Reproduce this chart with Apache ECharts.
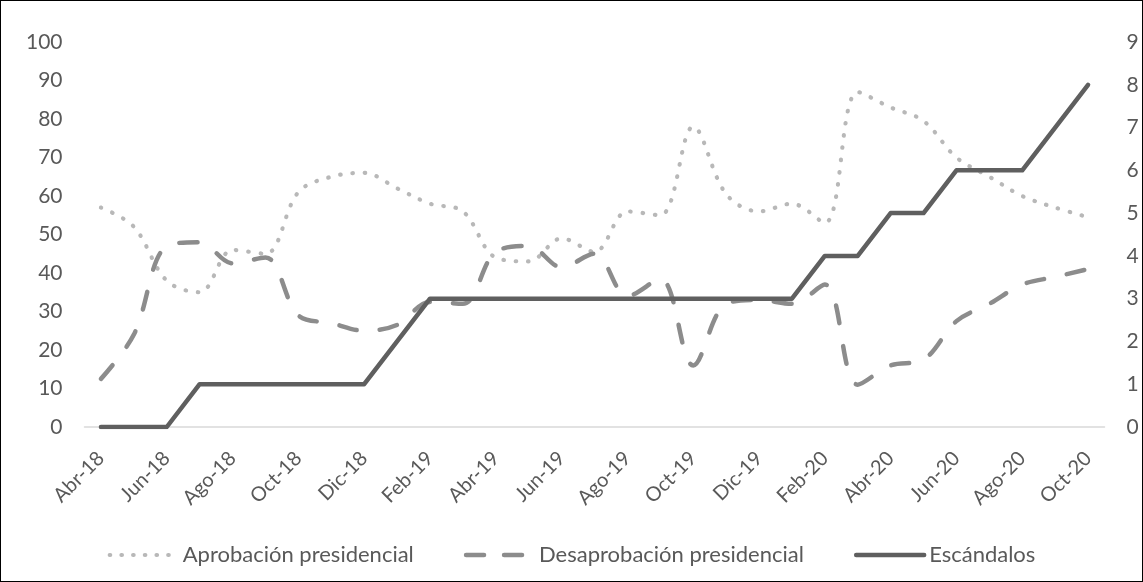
<!DOCTYPE html>
<html><head><meta charset="utf-8">
<script src="https://cdn.jsdelivr.net/npm/echarts@6/dist/echarts.min.js"></script>
<style>
html,body{margin:0;padding:0;background:#fff;}
#frame{width:1143px;height:582px;box-sizing:border-box;border:1px solid #000;}
#main{width:1141px;height:580px;}
</style></head>
<body><div id="frame"><div id="main"></div></div>
<script>
const categories = ['Abr-18','May-18','Jun-18','Jul-18','Ago-18','Sep-18','Oct-18','Nov-18','Dic-18','Ene-19','Feb-19','Mar-19','Abr-19','May-19','Jun-19','Jul-19','Ago-19','Sep-19','Oct-19','Nov-19','Dic-19','Ene-20','Feb-20','Mar-20','Abr-20','May-20','Jun-20','Jul-20','Ago-20','Sep-20','Oct-20'];
const aprobacion = [57,52,38,35,46,45,61,65,66,62,58,56,44,43,49,45.5,56,55,78,60.5,56,58,53,87,83,79.5,70,65,60,57,54.5];
const desaprobacion = [12.5,24,47,48,42.5,44,29,27,25,26.5,32.5,32,45.5,47,41.5,45,34,38.5,16,32,33,32,37,11,16,17.5,27.5,32,37,39,41];
const escandalos = [0,0,0,1,1,1,1,1,1,2,3,3,3,3,3,3,3,3,3,3,3,3,4,4,5,5,6,6,6,7,8];
const leftTicks = {min:0,max:100,interval:10};
const rightTicks = {min:0,max:9,interval:1};

const FONT = 'Lato';
const styles = {
  apr: {color:'#b8b8b8',width:4.2,type:[0.5,11.8],cap:'round'},
  des: {color:'#8c8c8c',width:4.5,type:[18,23],cap:'round'},
  esc: {color:'#5f5f5f',width:4.5,type:'solid',cap:'round',join:'round'}
};
const chart = echarts.init(document.getElementById('main'));
chart.setOption({
  animation:false,
  textStyle:{fontFamily:FONT},
  grid:{left:83.5,right:37.5,top:41,bottom:154,containLabel:false},
  legend:{
    top:538,left:'center',itemWidth:68,itemHeight:14,itemGap:50,
    itemStyle:{opacity:0},
    textStyle:{color:'#595959',fontSize:22,fontFamily:FONT},
    data:[
      {name:'Aprobación presidencial',lineStyle:{...styles.apr,type:[0.5,11.2]}},
      {name:'Desaprobación presidencial',lineStyle:{...styles.des,type:[18,20]}},
      {name:'Escándalos',lineStyle:styles.esc}
    ]
  },
  xAxis:{
    type:'category',data:categories,boundaryGap:true,
    axisLine:{lineStyle:{color:'#d9d9d9',width:1.5}},
    axisTick:{show:false},
    axisLabel:{interval:1,rotate:45,color:'#595959',fontSize:20,margin:28}
  },
  yAxis:[
    {type:'value',min:leftTicks.min,max:leftTicks.max,interval:leftTicks.interval,
     splitLine:{show:false},axisLine:{show:false},axisTick:{show:false},
     axisLabel:{color:'#595959',fontSize:21,margin:22}},
    {type:'value',min:rightTicks.min,max:rightTicks.max,interval:rightTicks.interval,
     splitLine:{show:false},axisLine:{show:false},axisTick:{show:false},
     axisLabel:{color:'#595959',fontSize:21,margin:22}}
  ],
  series:[
    {name:'Aprobación presidencial',type:'line',yAxisIndex:0,data:aprobacion,smooth:0.35,
     symbol:'none',lineStyle:styles.apr,itemStyle:{color:styles.apr.color}},
    {name:'Desaprobación presidencial',type:'line',yAxisIndex:0,data:desaprobacion,smooth:0.35,
     symbol:'none',lineStyle:styles.des,itemStyle:{color:styles.des.color}},
    {name:'Escándalos',type:'line',yAxisIndex:1,data:escandalos,smooth:false,
     symbol:'none',lineStyle:styles.esc,itemStyle:{color:styles.esc.color}}
  ]
});
</script></body></html>
